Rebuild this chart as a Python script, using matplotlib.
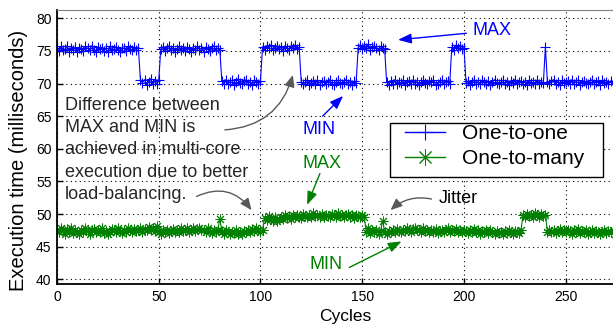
import numpy as np
import matplotlib
matplotlib.use("Agg")
import matplotlib.pyplot as plt
from matplotlib.patches import Rectangle

plt.rcParams['font.family'] = ['Liberation Sans', 'DejaVu Sans']

# One-to-one execution time per cycle (ms), cycles 0..275
one_to_one = [
    75.5, 75.0, 75.7, 75.2, 75.3, 75.8, 74.9, 75.4, 75.1, 75.6,
    74.8, 75.5, 75.3, 75.0, 75.7, 75.4, 75.1, 75.8, 75.2, 74.9,
    75.6, 75.3, 75.5, 75.0, 75.4, 74.8, 75.7, 75.1, 75.3, 75.6,
    75.2, 74.9, 75.5, 75.4, 75.0, 75.7, 75.3, 75.1, 75.6, 75.2,
    75.4, 70.5, 70.1, 70.6, 69.8, 70.3, 70.7, 70.0, 70.4, 69.9,
    70.5, 75.3, 75.6, 75.0, 75.4, 75.8, 75.1, 75.5, 74.9, 75.3,
    75.7, 75.2, 75.4, 75.0, 75.6, 75.3, 74.8, 75.5, 75.1, 75.7,
    75.2, 75.4, 74.9, 75.6, 75.3, 75.0, 75.5, 75.8, 75.1, 75.4,
    75.2, 70.4, 70.0, 70.6, 69.9, 70.3, 70.5, 69.8, 70.2, 70.7,
    70.1, 69.9, 70.4, 70.6, 70.0, 70.3, 69.7, 70.5, 70.2, 70.0,
    70.4, 75.6, 75.2, 75.8, 75.4, 75.9, 75.1, 75.5, 75.7, 75.3,
    75.6, 75.0, 75.8, 75.4, 75.2, 75.7, 75.5, 75.9, 75.3, 75.6,
    70.3, 69.9, 70.2, 70.6, 69.8, 70.1, 70.4, 70.0, 70.5, 69.7,
    70.2, 70.4, 69.9, 70.3, 70.6, 70.0, 69.8, 70.2, 70.5, 70.1,
    69.9, 70.3, 70.6, 70.0, 70.2, 69.7, 70.4, 70.1, 75.5, 75.9,
    75.3, 75.7, 75.4, 76.0, 75.2, 75.6, 75.8, 75.4, 75.1, 75.7,
    75.5, 75.3, 70.2, 69.8, 70.4, 70.0, 70.6, 69.9, 70.3, 70.1,
    70.5, 69.8, 70.2, 70.4, 69.9, 70.6, 70.0, 70.3, 69.7, 70.2,
    70.5, 70.1, 69.9, 70.4, 70.2, 70.6, 69.8, 70.0, 70.3, 70.5,
    69.9, 70.2, 70.4, 70.0, 75.6, 75.2, 75.9, 75.4, 75.7, 75.3,
    75.5, 70.1, 70.4, 69.8, 70.2, 70.6, 70.0, 70.3, 69.9, 70.5,
    70.2, 70.0, 70.4, 69.7, 70.3, 70.6, 70.1, 69.9, 70.2, 70.5,
    70.0, 70.3, 69.8, 70.4, 70.1, 70.6, 69.9, 70.2, 70.4, 70.0,
    70.3, 69.8, 70.5, 70.1, 70.2, 69.9, 70.6, 70.0, 70.3, 70.1,
    75.6, 70.2, 69.9, 70.4, 70.6, 70.0, 70.3, 69.8, 70.5, 70.1,
    70.2, 70.4, 69.9, 70.6, 70.0, 70.3, 70.5, 69.8, 70.2, 70.4,
    70.1, 69.9, 70.3, 70.6, 70.0, 70.2, 70.4, 69.8, 70.5, 70.1,
    70.3, 70.0, 70.4, 69.9, 70.2, 70.5,
]

# One-to-many execution time per cycle (ms), cycles 0..275
one_to_many = [
    47.6, 47.2, 47.9, 47.4, 47.0, 47.7, 47.3, 47.8, 47.1, 47.5,
    47.3, 46.9, 47.6, 47.2, 47.8, 47.4, 47.0, 47.5, 47.7, 47.2,
    47.6, 47.3, 47.9, 47.1, 47.4, 46.9, 47.2, 47.7, 47.5, 47.3,
    47.8, 47.4, 47.1, 47.6, 47.3, 47.9, 47.5, 47.2, 47.7, 47.4,
    47.6, 47.9, 47.3, 47.7, 47.5, 48.0, 47.6, 47.8, 47.4, 48.1,
    47.3, 47.0, 47.5, 47.2, 47.6, 47.1, 47.4, 47.7, 47.3, 47.6,
    47.2, 47.8, 47.4, 47.5, 47.9, 47.3, 47.6, 47.8, 47.4, 47.7,
    47.9, 47.5, 47.6, 47.3, 47.8, 47.4, 47.1, 47.6, 47.2, 47.5,
    49.3, 47.4, 47.0, 47.6, 47.2, 46.9, 47.3, 47.1, 47.5, 47.0,
    47.3, 46.9, 47.4, 47.2, 47.6, 47.3, 47.7, 47.4, 47.8, 47.5,
    47.3, 47.6, 49.4, 49.1, 49.7, 49.2, 49.0, 49.5, 48.9, 49.3,
    49.6, 49.2, 49.8, 49.4, 49.7, 49.3, 49.9, 49.5, 49.8, 49.6,
    49.4, 50.0, 49.7, 49.5, 49.9, 49.6, 50.1, 49.7, 49.8, 49.5,
    50.0, 49.6, 49.9, 49.7, 49.5, 50.0, 49.8, 49.6, 50.1, 49.7,
    49.9, 49.5, 49.8, 50.0, 49.6, 49.8, 49.4, 49.9, 49.7, 49.6,
    49.8, 49.5, 47.3, 47.8, 47.1, 47.5, 47.2, 47.6, 47.0, 47.4,
    49.0, 47.3, 47.0, 47.4, 47.2, 47.6, 47.3, 47.7, 47.4, 47.2,
    47.6, 47.4, 47.8, 47.5, 47.3, 47.7, 47.9, 47.5, 47.6, 47.3,
    47.8, 47.4, 47.6, 47.2, 47.5, 47.3, 47.7, 47.1, 47.4, 47.6,
    47.2, 47.5, 47.8, 47.3, 47.6, 47.4, 47.7, 47.2, 47.5, 47.3,
    47.6, 47.4, 47.1, 47.5, 47.3, 47.7, 47.2, 47.6, 47.0, 47.4,
    47.3, 47.6, 47.1, 47.5, 47.2, 46.9, 47.4, 47.1, 47.3, 47.0,
    47.4, 47.1, 47.5, 47.2, 47.0, 47.4, 47.3, 47.1, 47.5, 49.8,
    49.5, 50.0, 49.7, 49.9, 49.6, 50.1, 49.8, 49.5, 50.0, 49.7,
    49.9, 47.3, 47.6, 47.2, 47.5, 47.1, 47.4, 47.7, 47.3, 47.5,
    47.2, 47.6, 47.4, 47.0, 47.5, 47.3, 47.7, 47.1, 47.4, 47.2,
    47.5, 47.0, 47.3, 47.6, 47.1, 47.4, 47.2, 46.9, 47.3, 47.5,
    47.1, 47.4, 47.2, 47.6, 47.0, 47.3,
]

series_labels = ['One-to-one', 'One-to-many']
x_ticks = [0, 50, 100, 150, 200, 250]
y_ticks = [40, 45, 50, 55, 60, 65, 70, 75, 80]

BLUE = (0.0, 0.0, 1.0)
GREEN = (0.0, 0.5, 0.0)
GRAY = (0.35, 0.35, 0.35)

fig = plt.figure(figsize=(6.13, 3.25), dpi=100)
ax = fig.add_axes([57 / 613, 40.7 / 325, 582 / 613, 274.3 / 325])

cyc1 = np.arange(len(one_to_one))
cyc2 = np.arange(len(one_to_many))
ax.plot(cyc1, one_to_one, color=BLUE, lw=0.8, marker='+', ms=7.5, mew=0.8,
        label=series_labels[0])
ax.plot(cyc2, one_to_many, color=GREEN, lw=0.8, marker=(8, 2, 0), ms=7,
        mew=0.7, label=series_labels[1])

ax.set_xlim(0, 286)
ax.set_ylim(39.23, 81.27)
ax.set_xticks(x_ticks)
ax.set_yticks(y_ticks)
ax.tick_params(direction='in', length=4, width=1, labelsize=10,
               colors='black', top=False, right=False, pad=4)
ax.grid(True, color='black', linestyle=(0, (1, 3)), linewidth=0.8)
for s in ['left', 'bottom']:
    ax.spines[s].set_linewidth(1.3)
ax.spines['top'].set_color('0.5')
ax.spines['top'].set_linewidth(0.8)

fig.text(345 / 613, 1 - 317 / 325, 'Cycles', ha='center', va='center',
         fontsize=12.5)
fig.text(19 / 613, 1 - 160 / 325, 'Execution time (milliseconds)',
         ha='center', va='center', rotation=90, fontsize=14.5)

# legend box (drawn separately to match the reference padding)
ax.add_patch(Rectangle((0.572, 0.392), 0.366, 0.197, transform=ax.transAxes,
                       facecolor='white', edgecolor='black', lw=1.0,
                       zorder=4))
leg = ax.legend(loc='upper left', bbox_to_anchor=(0.598, 0.585),
                fontsize=15, frameon=False, handlelength=1.92,
                handletextpad=0.82, borderpad=0, labelspacing=0.3,
                borderaxespad=0)
leg.set_zorder(5)
for h in leg.legend_handles:
    h.set_markersize(12)
    h.set_linewidth(1.0)

FS = 13
ax.text(3.9, 68.0, 'Difference between\nMAX and MIN is\nachieved in multi-core\n'
        'execution due to better\nload-balancing.', ha='left', va='top',
        fontsize=FS, color='0.15', linespacing=1.41)

arrow_blue = dict(arrowstyle='-|>,head_length=0.8,head_width=0.3', color=BLUE,
                  lw=1.0, shrinkA=0, shrinkB=0)
arrow_green = dict(arrowstyle='-|>,head_length=0.8,head_width=0.3', color=GREEN,
                   lw=1.0, shrinkA=0, shrinkB=0)

ax.text(204.3, 78.1, 'MAX', color=BLUE, fontsize=FS, ha='left', va='center')
ax.annotate('', xy=(167.6, 76.7), xytext=(201.2, 77.7), arrowprops=arrow_blue)
ax.text(120.7, 62.9, 'MIN', color=BLUE, fontsize=FS, ha='left', va='center')
ax.annotate('', xy=(140.6, 68.1), xytext=(130.5, 65.0), arrowprops=arrow_blue)

ax.text(120.7, 57.8, 'MAX', color=GREEN, fontsize=FS, ha='left', va='center')
ax.annotate('', xy=(122.9, 51.4), xytext=(129.2, 56.2), arrowprops=arrow_green)
ax.text(123.9, 42.2, 'MIN', color=GREEN, fontsize=FS, ha='left', va='center')
ax.annotate('', xy=(169.3, 45.8), xytext=(143.6, 41.8), arrowprops=arrow_green)

ax.text(187.8, 52.4, 'Jitter', color='black', fontsize=FS, ha='left',
        va='center')
arrow_gray = dict(arrowstyle='-|>,head_length=0.7,head_width=0.3', color=GRAY,
                  lw=1.0, shrinkA=0, shrinkB=0)
ax.annotate('', xy=(163.9, 50.6), xytext=(184.0, 52.3),
            arrowprops=dict(arrow_gray, connectionstyle='arc3,rad=0.25'))
ax.annotate('', xy=(115.9, 71.3), xytext=(82.5, 62.9),
            arrowprops=dict(arrow_gray, connectionstyle='arc3,rad=0.35'))
ax.annotate('', xy=(95.6, 50.6), xytext=(68.6, 52.7),
            arrowprops=dict(arrow_gray, connectionstyle='arc3,rad=-0.4'))

fig.savefig('out.png', dpi=100)
